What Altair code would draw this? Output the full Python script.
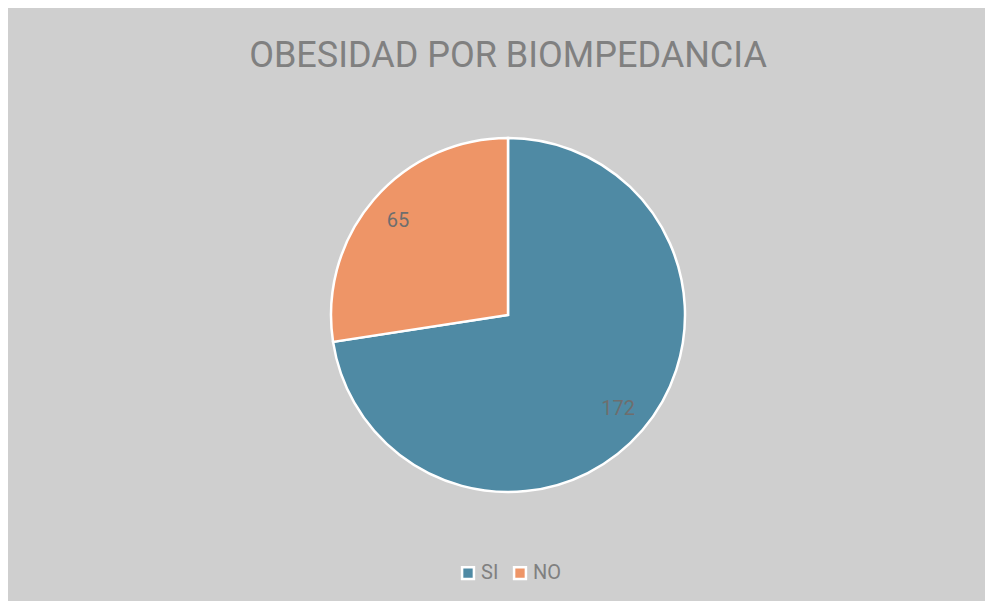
import altair as alt
import pandas as pd

categories = ["SI", "NO"]
values = [172, 65]
colors = ["#4f8aa4", "#ee9567"]
title_text = "OBESIDAD POR BIOMPEDANCIA"

df = pd.DataFrame({"cat": categories, "val": values, "order": [0, 1]})

CX, CY = 500, 307

base = alt.Chart(df).encode(
    theta=alt.Theta("val:Q", stack=True),
    order=alt.Order("order:Q"),
)

pie = base.mark_arc(outerRadius=177, stroke="white", strokeWidth=2.5).encode(
    x=alt.value(CX),
    y=alt.value(CY),
    color=alt.Color(
        "cat:N",
        scale=alt.Scale(domain=categories, range=colors),
        sort=categories,
        legend=alt.Legend(
            title=None,
            orient="none",
            direction="horizontal",
            legendX=450,
            legendY=555,
            symbolType="square",
            symbolSize=140,
            symbolStrokeColor="white",
            symbolStrokeWidth=2.5,
            symbolOpacity=1,
            labelFontSize=20,
            labelColor="#808080",
            labelFont="Roboto",
            columnPadding=10,
            labelOffset=3,
            padding=0,
        ),
    ),
)

labels = base.mark_text(radius=145, fontSize=20, font="Roboto", color="#6e6e6e").encode(
    x=alt.value(CX),
    y=alt.value(CY),
    text=alt.Text("val:Q"),
)

title_df = pd.DataFrame({"t": [title_text]})
title = alt.Chart(title_df).mark_text(
    fontSize=36, font="Roboto", color="#808080", baseline="alphabetic", align="center"
).encode(x=alt.value(500), y=alt.value(59), text="t:N")

chart = (
    alt.layer(pie, labels, title)
    .properties(
        width=977,
        height=593,
        background="#cfcfcf",
        padding=0,
        autosize=alt.AutoSizeParams(type="none"),
    )
    .configure_view(stroke=None)
)

chart.save("out.html", embed_options={"renderer": "svg", "actions": False})
